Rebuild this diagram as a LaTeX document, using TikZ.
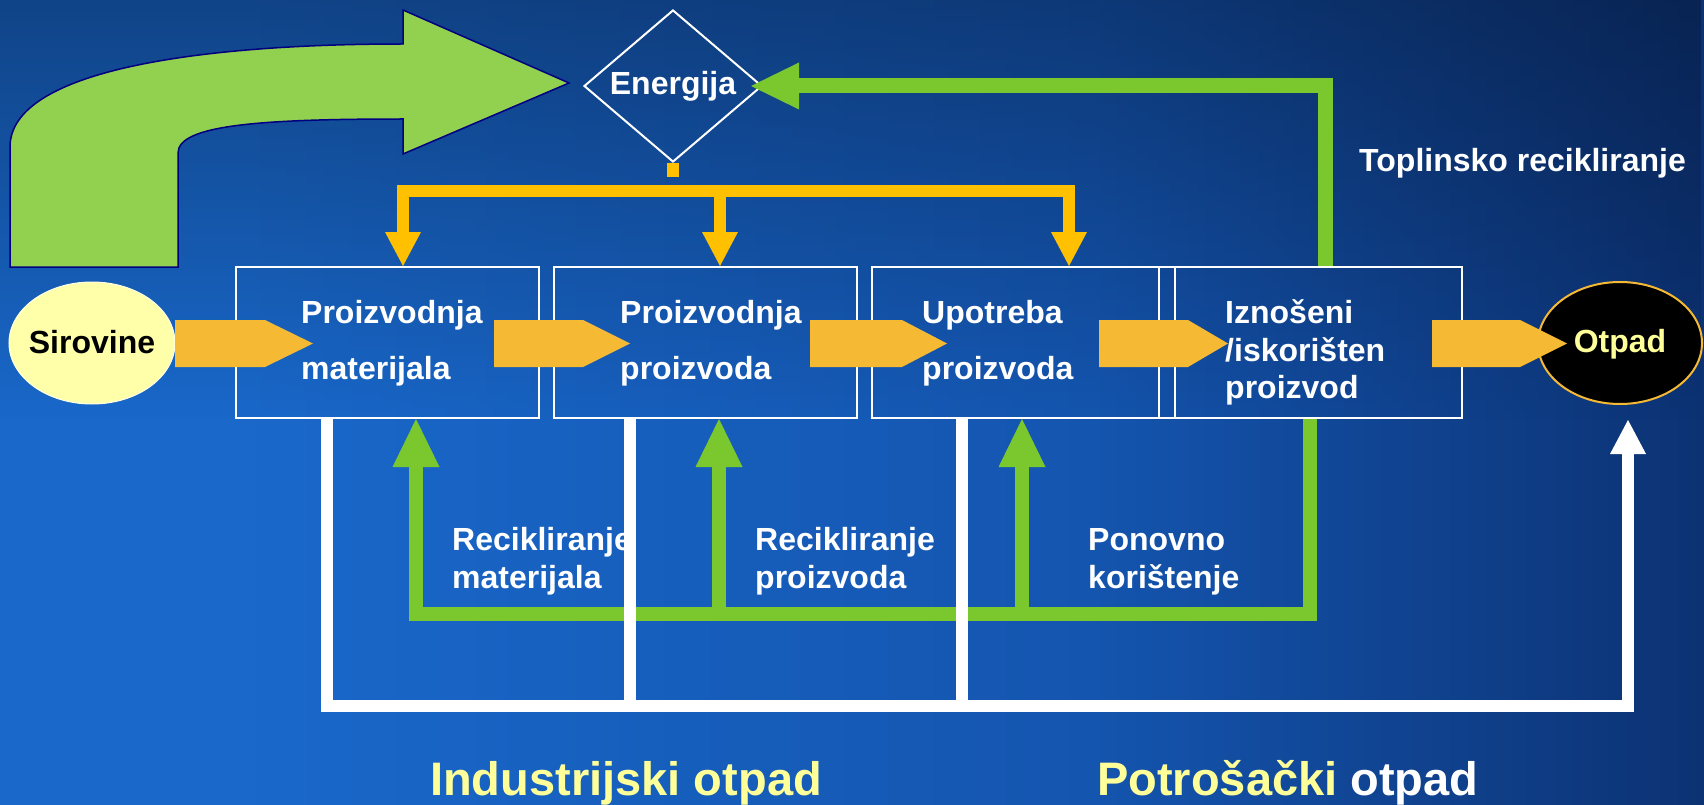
\documentclass[tikz,border=0pt]{standalone}
\usepackage{fontspec}
\setmainfont{Liberation Sans}
\usetikzlibrary{shapes.geometric,fadings,calc}
\definecolor{bgA}{RGB}{25,104,202}
\definecolor{bgB}{RGB}{20,85,175}
\definecolor{bgC}{RGB}{12,50,115}
\definecolor{bgTop}{RGB}{4,14,36}
\definecolor{lgreen}{RGB}{146,208,80}
\definecolor{edgeblue}{RGB}{0,0,128}
\definecolor{grn}{RGB}{122,200,46}
\definecolor{yel}{RGB}{255,192,0}
\definecolor{org}{RGB}{245,185,52}
\definecolor{paleY}{RGB}{255,255,153}
\definecolor{sirY}{RGB}{255,255,170}
\pgfdeclarehorizontalshading{bgh}{100bp}{color(0bp)=(bgA); color(32bp)=(bgA); color(57bp)=(bgB); color(75bp)=(bgC); color(100bp)=(bgC)}
\tikzset{
  box/.style={draw=white, line width=2, minimum width=303, minimum height=151, inner sep=0},
  txt/.style={text=white, font=\fontsize{32}{38}\selectfont\bfseries, inner sep=0, anchor=base west},
  bigtxt/.style={font=\fontsize{47}{56}\selectfont\bfseries, inner sep=0, anchor=base west},
  blockarrow/.style={fill=org},
  ylink/.style={draw=yel, line width=12, line join=miter},
  glink/.style={draw=grn, line width=14, line join=miter},
  wlink/.style={draw=white, line width=12, line join=miter},
}
\begin{document}
\begin{tikzpicture}[x=1pt,y=-1pt]
\useasboundingbox (0,0) rectangle (1704,805);
% background
\shade[shading=bgh] (0,0) rectangle (1704,805);
\fill[bgTop, opacity=0.4, path fading=south] (0,0) rectangle (1704,420);

% big curved arrow
\filldraw[fill=lgreen, draw=edgeblue, line width=1.5]
  (10,267) -- (10,147) .. controls (10,70) and (200,44) .. (403,44)
  -- (403,10) -- (569,83) -- (403,154) -- (403,119)
  .. controls (260,119) and (178,125) .. (178,153) -- (178,267) -- cycle;

% energy diamond
\node[diamond, draw=white, line width=2, minimum width=178, minimum height=152, aspect=1.2, inner sep=0,
      text=white, font=\fontsize{32}{38}\selectfont\bfseries] (en) at (673,86) {Energija};

% boxes
\node[box] (b1) at (387.5,342.5) {};
\node[box] (b2) at (705,342.5) {};
\node[box] (b3) at (1023,342.5) {};
\node[box] (b4) at (1310,342.5) {};

% ellipses
\node[ellipse, fill=sirY, draw=white!70!sirY, line width=1, minimum width=166, minimum height=122, inner sep=0] (sir) at (92,343) {};
\node[ellipse, fill=black, draw=org, line width=2, minimum width=164, minimum height=122, inner sep=0] (otp) at (1620,343) {};
\node[inner sep=0, anchor=base, font=\fontsize{32}{38}\selectfont\bfseries, text=black] (sirt) at (92,353) {Sirovine};
\node[inner sep=0, anchor=base, font=\fontsize{32}{38}\selectfont\bfseries, text=paleY] (otpt) at (1620,352) {Otpad};

% yellow energy distribution
\fill[yel] ($(en.south)+(-6,0)$) rectangle ($(en.south)+(6,14)$);
\draw[ylink] (403,232) -- (403,191) -- (1069,191) -- (1069,232);
\draw[ylink] (720,191) -- (720,232);
\fill[yel] (385,232) -- (421,232) -- (403,0 |- b1.north) -- cycle;
\fill[yel] (702,232) -- (738,232) -- (720,0 |- b2.north) -- cycle;
\fill[yel] (1051,232) -- (1087,232) -- (1069,0 |- b3.north) -- cycle;

% thermal recycling
\draw[draw=grn, line width=15, line join=miter] (1325,0 |- b4.north) -- (1325,86) -- (799,86);
\fill[grn] (799,62.5) -- (799,109.5) -- ($(en.east)+(-12,0)$) -- cycle;
\node[txt] (topl) at (1359,172) {Toplinsko recikliranje};

% orange block arrows
\fill[blockarrow] (175,320) -- (265,320) -- (313,343.5) -- (265,367) -- (175,367) -- cycle;
\fill[blockarrow] (494,320) -- (583,320) -- (630,343.5) -- (583,367) -- (494,367) -- cycle;
\fill[blockarrow] (810,320) -- (902,320) -- (947,343.5) -- (902,367) -- (810,367) -- cycle;
\fill[blockarrow] (1099,320) -- (1188,320) -- (1228,343.5) -- (1188,367) -- (1099,367) -- cycle;
\fill[blockarrow] (1432,320) -- (1520,320) -- (1567,343.5) -- (1520,367) -- (1432,367) -- cycle;

% box texts
\node[txt] (t1a) at (301,323) {Proizvodnja};
\node[txt] (t1b) at (301,379) {materijala};
\node[txt] (t2a) at (620,323) {Proizvodnja};
\node[txt] (t2b) at (620,379) {proizvoda};
\node[txt] (t3a) at (922,323) {Upotreba};
\node[txt] (t3b) at (922,379) {proizvoda};
\node[txt] (t4a) at (1225,323) {Iznošeni};
\node[txt] (t4b) at (1225,361) {/iskorišten};
\node[txt] (t4c) at (1225,398) {proizvod};

% green recycling loops
\draw[glink] (416,467) -- (416,614) -- (1310,614) -- (1310,0 |- b4.south);
\draw[glink] (719,467) -- (719,614);
\draw[glink] (1022,467) -- (1022,614);
\fill[grn] (392.5,467) -- (439.5,467) -- (416,0 |- b1.south) -- cycle;
\fill[grn] (695.5,467) -- (742.5,467) -- (719,0 |- b2.south) -- cycle;
\fill[grn] (998.5,467) -- (1045.5,467) -- (1022,0 |- b3.south) -- cycle;

% labels
\node[txt] (l1a) at (452,550) {Recikliranje};
\node[txt] (l1b) at (452,588) {materijala};
\node[txt] (l2a) at (755,550) {Recikliranje};
\node[txt] (l2b) at (755,588) {proizvoda};
\node[txt] (l3a) at (1088,550) {Ponovno};
\node[txt] (l3b) at (1088,588) {korištenje};

% white waste lines
\draw[wlink] (327,0 |- b1.south) -- (327,706) -- (1628,706) -- (1628,454);
\draw[wlink] (630,0 |- b2.south) -- (630,706);
\draw[wlink] (962,0 |- b3.south) -- (962,706);
\fill[white] (1610,454) -- (1646,454) -- (1628,420) -- cycle;

% bottom labels
\node[bigtxt, text=paleY] (ind) at (430,795) {Industrijski otpad};
\node[bigtxt, text=paleY] (pot) at (1097,795) {Potrošački \textcolor{white}{otpad}};
\end{tikzpicture}
\end{document}
